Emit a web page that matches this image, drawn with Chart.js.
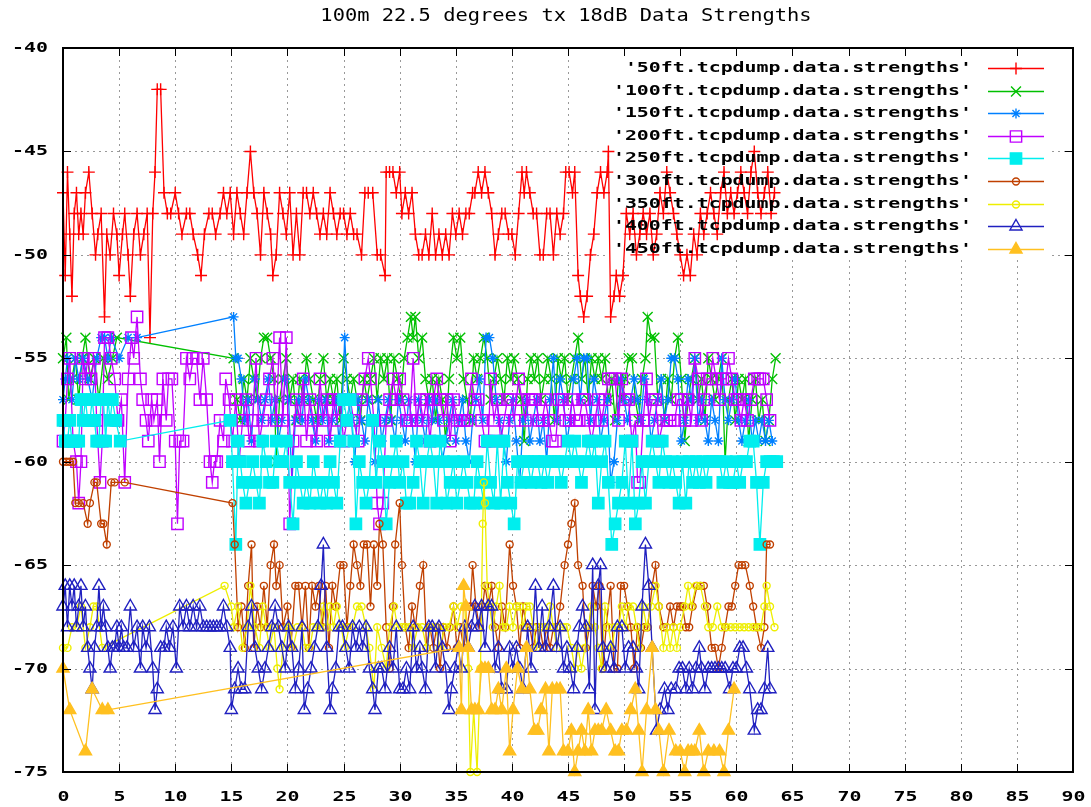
<!DOCTYPE html>
<html><head><meta charset="utf-8">
<script src="https://cdn.jsdelivr.net/npm/chart.js@4/dist/chart.umd.min.js"></script>
<style>html,body{margin:0;padding:0;background:#fff;overflow:hidden}</style>
</head><body>
<canvas id="c" width="1091" height="807"></canvas>
<script>
const titleText = '100m 22.5 degrees tx 18dB Data Strengths';
const seriesNames = ["'50ft.tcpdump.data.strengths'","'100ft.tcpdump.data.strengths'","'150ft.tcpdump.data.strengths'","'200ft.tcpdump.data.strengths'","'250ft.tcpdump.data.strengths'","'300ft.tcpdump.data.strengths'","'350ft.tcpdump.data.strengths'","'400ft.tcpdump.data.strengths'","'450ft.tcpdump.data.strengths'"];
const xTicks = [0,5,10,15,20,25,30,35,40,45,50,55,60,65,70,75,80,85,90];
const yTicks = [-75,-70,-65,-60,-55,-50,-45,-40];

const x50 = [0.0,0.2,0.4,0.6,0.8,1.0,1.2,1.4,1.6,1.8,
2.0,2.3,2.6,2.9,3.1,3.4,3.7,3.9,4.2,4.5,
4.8,5.0,5.3,5.5,5.8,6.0,6.3,6.6,6.9,7.2,
7.5,7.75,8.0,8.2,8.4,8.7,9.0,9.3,9.6,10.0,
10.3,10.6,11.0,11.3,11.6,12.0,12.3,12.6,13.0,13.3,
13.6,14.0,14.3,14.6,14.9,15.2,15.5,15.8,16.1,16.4,
16.7,17.0,17.3,17.6,17.9,18.2,18.5,18.7,19.0,19.3,
19.6,19.9,20.2,20.5,20.8,21.1,21.4,21.7,22.0,22.3,
22.6,22.9,23.2,23.5,23.8,24.1,24.4,24.7,25.0,25.3,
25.6,25.9,26.2,26.6,26.9,27.2,27.6,28.0,28.3,28.7,
28.8,29.1,29.4,29.7,30.0,30.2,30.5,30.8,31.1,31.4,
31.7,32.0,32.3,32.6,32.9,33.2,33.5,33.8,34.1,34.4,
34.7,35.0,35.3,35.6,35.9,36.2,36.5,36.7,37.0,37.3,
37.6,37.9,38.2,38.5,38.8,39.1,39.4,39.7,40.0,40.3,
40.6,40.9,41.1,41.3,41.6,41.9,42.2,42.5,42.8,43.1,
43.4,43.7,44.0,44.3,44.6,44.8,45.1,45.4,45.6,45.9,
46.1,46.4,46.7,47.0,47.3,47.6,47.9,48.2,48.5,48.6,
48.8,49.1,49.3,49.6,49.9,50.2,50.5,50.8,51.1,51.4,
51.7,52.0,52.3,52.6,52.9,53.2,53.5,53.8,54.1,54.4,
54.7,55.0,55.3,55.6,55.9,56.2,56.5,56.8,57.1,57.4,
57.7,58.0,58.3,58.6,58.9,59.2,59.5,59.8,60.1,60.4,
60.7,61.0,61.3,61.6,61.9,62.2,62.5,62.8,63.1,63.4];
const y50 = [-47,-51,-46,-49,-52,-48,-47,-49,-48,-49,
-47,-46,-48,-50,-49,-48,-53,-49,-50,-48,
-49,-51,-49,-48,-50,-52,-49,-48,-50,-49,
-48,-54,-48,-46,-42,-42,-47,-48,-48,-47,
-48,-49,-48,-48,-49,-50,-51,-49,-48,-48,
-49,-48,-47,-48,-47,-49,-47,-48,-49,-47,
-45,-47,-48,-50,-47,-48,-49,-51,-50,-47,
-48,-49,-47,-50,-48,-50,-47,-47,-48,-47,
-48,-49,-48,-49,-47,-48,-49,-48,-48,-49,
-48,-49,-49,-50,-47,-47,-47,-50,-50,-51,
-46,-46,-46,-47,-46,-48,-47,-48,-47,-49,
-50,-50,-49,-50,-48,-50,-49,-50,-49,-50,
-48,-49,-48,-49,-48,-48,-47,-47,-46,-47,
-46,-47,-48,-50,-49,-48,-48,-49,-49,-50,
-48,-46,-47,-46,-47,-48,-48,-50,-50,-48,
-48,-50,-48,-49,-48,-46,-46,-47,-46,-51,
-52,-53,-52,-50,-49,-47,-46,-47,-46,-45,
-53,-52,-51,-52,-51,-48,-49,-48,-50,-49,
-48,-49,-48,-50,-49,-47,-48,-46,-47,-48,
-49,-50,-51,-50,-51,-49,-50,-48,-49,-48,
-47,-48,-49,-47,-46,-48,-47,-48,-47,-46,
-47,-48,-46,-45,-47,-48,-47,-46,-48,-47];

const x100 = [0.0,0.3,0.5,0.8,1.1,1.4,1.7,2.0,2.4,2.8,3.2,3.6,4.0,4.4,4.8,
15.2,15.5,15.8,16.1,16.4,16.7,17.0,17.3,17.6,17.9,
18.2,18.5,18.8,19.0,19.3,19.6,19.9,20.2,20.5,20.8,
21.1,21.4,21.7,22.0,22.3,22.6,22.9,23.2,23.5,23.8,
24.1,24.4,24.7,25.0,25.3,25.6,25.9,26.2,26.5,26.8,
27.1,27.4,27.7,28.0,28.3,28.6,28.9,29.2,29.5,29.8,
30.1,30.4,30.7,31.0,31.2,31.4,31.7,32.0,32.3,32.6,
32.9,33.2,33.5,33.8,34.1,34.4,34.8,35.1,35.4,35.7,
36.0,36.3,36.6,36.9,37.2,37.5,37.8,38.1,38.4,38.7,
39.0,39.3,39.6,39.9,40.2,40.5,40.8,41.1,41.4,41.7,
42.0,42.3,42.6,42.9,43.2,43.5,43.8,44.1,44.4,44.7,
45.0,45.3,45.6,45.9,46.2,46.5,46.8,47.1,47.4,47.7,
48.0,48.3,48.6,48.9,49.2,49.5,49.8,50.1,50.4,50.7,
51.0,51.3,51.6,51.9,52.1,52.4,52.7,53.0,53.3,53.6,
53.9,54.2,54.5,54.8,55.1,55.4,55.7,56.0,56.3,56.6,
56.9,57.2,57.5,57.8,58.1,58.4,58.7,59.0,59.3,59.6,
59.9,60.2,60.5,60.8,61.1,61.4,61.7,62.0,62.3,62.6,
62.9,63.2,63.5];
const y100 = [-55,-54,-57,-56,-55,-57,-55,-54,-56,-55,-57,-55,-56,-55,-54,
-55,-57,-58,-56,-57,-55,-56,-57,-55,-54,
-54,-55,-56,-60,-57,-56,-55,-57,-56,-58,
-56,-57,-55,-56,-57,-58,-56,-55,-57,-56,
-57,-56,-58,-55,-56,-57,-56,-57,-58,-56,
-57,-56,-55,-57,-55,-56,-55,-58,-55,-56,
-57,-55,-54,-53,-54,-53,-55,-54,-56,-57,
-56,-58,-56,-57,-59,-56,-54,-55,-54,-56,
-57,-58,-55,-56,-55,-54,-55,-57,-56,-55,
-56,-57,-55,-56,-55,-56,-57,-59,-56,-55,
-56,-55,-57,-56,-55,-56,-58,-55,-56,-55,
-57,-56,-55,-54,-56,-55,-57,-55,-56,-55,
-56,-55,-57,-56,-58,-56,-57,-56,-55,-55,
-57,-58,-56,-55,-53,-54,-54,-57,-56,-58,
-56,-57,-55,-54,-56,-59,-57,-56,-55,-57,
-56,-58,-55,-56,-57,-56,-55,-60,-57,-56,
-58,-56,-57,-56,-59,-57,-56,-58,-57,-59,
-58,-56,-55];

const x150 = [0.0,0.2,0.4,0.6,0.8,1.1,1.4,1.8,2.2,2.6,3.0,3.4,3.7,4.0,4.3,5.0,5.8,6.6,
15.2,15.4,15.6,15.9,16.2,16.5,16.8,17.1,17.4,17.7,
18.0,18.3,18.6,18.9,19.2,19.5,19.8,20.1,20.4,20.7,
21.0,21.3,21.6,21.9,22.2,22.5,22.8,23.1,23.4,23.7,
24.0,24.3,24.6,24.9,25.1,25.4,25.7,26.0,26.3,26.6,
26.9,27.2,27.5,27.8,28.1,28.4,28.7,29.0,29.3,29.6,
29.9,30.2,30.5,30.8,31.1,31.4,31.7,32.0,32.3,32.6,
32.9,33.2,33.5,33.8,34.1,34.4,34.7,35.0,35.3,35.6,
35.9,36.2,36.5,36.8,37.1,37.4,37.7,38.0,38.3,38.6,
38.9,39.2,39.5,39.8,40.1,40.4,40.7,41.0,41.3,41.6,
41.9,42.2,42.5,42.8,43.1,43.4,43.7,44.0,44.3,44.6,
44.9,45.2,45.5,45.8,46.1,46.4,46.7,47.0,47.3,47.6,
47.9,48.2,48.5,48.8,49.1,49.4,49.7,50.0,50.3,50.6,
50.9,51.2,51.5,51.8,52.1,52.4,52.7,53.0,53.3,53.6,
53.9,54.2,54.5,54.8,55.1,55.4,55.7,56.0,56.3,56.6,
56.9,57.2,57.5,57.8,58.1,58.4,58.7,59.0,59.3,59.6,
59.9,60.2,60.5,60.8,61.1,61.4,61.7,62.0,62.3,62.6,
62.9,63.2];
const y150 = [-57,-56,-55,-56,-57,-55,-56,-55,-56,-57,-55,-54,-54,-55,-54,-55,-54,-54,
-53,-55,-55,-56,-58,-57,-59,-56,-57,-58,
-57,-56,-58,-57,-59,-58,-56,-57,-61,-58,
-57,-58,-56,-57,-58,-59,-57,-58,-57,-59,
-58,-57,-59,-57,-54,-57,-58,-60,-57,-58,
-59,-57,-58,-60,-57,-59,-58,-57,-58,-59,
-57,-58,-59,-57,-58,-60,-57,-58,-59,-57,
-58,-57,-58,-60,-59,-58,-57,-59,-58,-57,
-59,-60,-58,-57,-56,-58,-54,-54,-55,-57,
-58,-59,-60,-58,-57,-59,-61,-58,-57,-59,
-58,-57,-59,-58,-60,-57,-55,-58,-56,-57,
-59,-58,-56,-55,-57,-55,-55,-58,-56,-57,
-59,-58,-57,-61,-60,-58,-56,-57,-58,-57,
-56,-57,-58,-56,-57,-59,-58,-57,-56,-58,
-57,-55,-55,-56,-59,-58,-56,-57,-55,-58,
-57,-58,-59,-57,-58,-59,-55,-57,-58,-57,
-56,-58,-59,-58,-57,-59,-58,-59,-58,-59,
-58,-59];

const x200 = [0.0,0.2,0.4,0.6,0.9,1.2,1.4,1.6,1.8,2.0,
2.2,2.5,2.8,3.0,3.3,3.5,3.7,4.0,4.3,4.6,
4.9,5.2,5.5,5.8,6.1,6.3,6.6,6.9,7.1,7.4,
7.6,7.9,8.1,8.4,8.6,8.9,9.2,9.4,9.7,10.0,
10.2,10.4,10.7,11.0,11.3,11.6,11.9,12.2,12.5,12.8,
13.1,13.3,13.5,13.7,14.0,14.3,14.5,14.8,
15.1,15.4,15.7,16.0,16.3,16.6,16.9,17.2,17.5,17.8,
18.1,18.4,18.7,19.0,19.3,19.6,19.9,20.2,20.5,20.8,
21.1,21.4,21.7,22.0,22.3,22.6,22.9,23.2,23.5,23.8,
24.1,24.4,24.7,25.0,25.3,25.6,25.9,26.3,26.6,26.9,
27.2,27.4,27.7,28.0,28.2,28.5,28.8,29.1,29.4,29.7,
30.0,30.3,30.6,30.9,31.2,31.5,31.8,32.1,32.4,32.7,
33.0,33.3,33.6,33.9,34.2,34.5,34.8,35.1,35.4,35.7,
36.0,36.4,36.7,37.0,37.3,37.6,37.9,38.1,38.4,38.7,
39.0,39.3,39.6,39.9,40.2,40.6,40.9,41.2,41.5,41.8,
42.1,42.4,42.7,43.0,43.3,43.6,43.9,44.2,44.5,44.8,
45.1,45.4,45.7,46.0,46.3,46.5,46.8,47.1,47.4,47.7,
48.0,48.3,48.6,48.9,49.2,49.5,49.8,50.1,50.4,50.7,
51.0,51.2,51.4,51.7,52.0,52.2,52.5,52.8,53.1,53.5,
53.8,54.1,54.5,54.8,55.1,55.4,55.7,56.0,56.3,56.6,
56.9,57.1,57.4,57.7,57.9,58.2,58.5,58.8,59.1,59.3,
59.6,59.9,60.1,60.4,60.7,61.0,61.3,61.6,61.9,62.1,
62.4,62.7,63.0];
const y200 = [-59,-58,-56,-55,-59,-60,-62,-60,-55,-56,
-55,-56,-55,-58,-61,-59,-54,-54,-55,-56,
-58,-57,-61,-56,-54,-55,-53,-56,-57,-58,
-59,-57,-58,-57,-60,-56,-58,-56,-56,-59,
-63,-59,-59,-55,-56,-55,-55,-57,-55,-57,
-60,-61,-60,-60,-58,-59,-56,-57,
-59,-57,-60,-58,-57,-59,-58,-55,-59,-58,
-57,-56,-55,-58,-54,-58,-54,-63,-59,-57,
-58,-56,-59,-57,-58,-59,-56,-58,-57,-59,
-57,-58,-57,-59,-58,-57,-58,-59,-57,-56,
-55,-56,-58,-62,-63,-62,-58,-57,-56,-57,
-56,-57,-58,-58,-55,-58,-57,-58,-57,-59,
-57,-56,-57,-58,-57,-59,-57,-58,-58,-58,
-58,-56,-57,-57,-58,-59,-59,-56,-58,-57,
-59,-58,-57,-57,-58,-56,-57,-58,-57,-57,
-57,-58,-58,-57,-58,-59,-59,-57,-57,-58,
-58,-57,-58,-58,-57,-57,-58,-59,-58,-57,
-58,-57,-56,-56,-56,-58,-56,-57,-57,-59,
-58,-61,-61,-58,-56,-58,-57,-57,-59,-58,
-58,-58,-58,-57,-57,-58,-57,-58,-55,-56,
-58,-57,-56,-56,-55,-56,-57,-56,-56,-55,
-56,-57,-57,-58,-57,-58,-57,-56,-56,-56,
-56,-57,-58];

const x250 = [0.0,0.2,0.4,0.6,0.8,1.0,1.2,1.4,1.6,1.8,
2.0,2.2,2.4,2.6,2.8,3.0,3.2,3.4,3.6,3.8,
4.0,4.2,4.4,4.7,5.1,
14.9,15.1,15.4,15.6,15.8,16.0,16.3,16.6,16.9,17.2,
17.5,17.8,18.1,18.4,18.7,19.0,19.3,19.6,19.9,20.2,
20.5,20.8,21.1,21.4,21.7,22.0,22.3,22.6,22.9,23.2,
23.5,23.8,24.1,24.4,24.7,25.0,25.3,25.6,25.9,26.1,
26.4,26.7,27.0,27.3,27.6,27.9,28.2,28.5,28.8,29.1,
29.4,29.7,30.0,30.3,30.6,30.9,31.2,31.5,31.8,32.1,
32.4,32.7,33.0,33.3,33.6,33.9,34.2,34.5,34.8,35.1,
35.4,35.7,36.0,36.3,36.6,36.9,37.2,37.5,37.8,38.1,
38.4,38.7,39.0,39.3,39.6,39.9,40.2,40.5,40.8,41.1,
41.4,41.7,42.0,42.3,42.6,42.9,43.2,43.5,43.8,44.1,
44.4,44.7,45.0,45.3,45.6,45.9,46.2,46.5,46.8,47.1,
47.4,47.7,48.0,48.3,48.6,48.9,49.2,49.5,49.8,50.1,
50.4,50.7,51.0,51.3,51.6,51.9,52.2,52.5,52.8,53.1,
53.4,53.7,54.0,54.3,54.6,54.9,55.2,55.5,55.8,56.1,
56.4,56.7,57.0,57.3,57.6,57.9,58.2,58.5,58.8,59.1,
59.4,59.7,60.0,60.3,60.6,60.9,61.2,61.5,61.8,62.1,
62.4,62.7,63.0,63.3,63.6];
const y250 = [-58,-59,-59,-58,-59,-59,-59,-59,-57,-58,
-57,-58,-58,-57,-58,-59,-59,-57,-57,-59,
-57,-58,-57,-58,-59,
-58,-60,-64,-59,-60,-61,-62,-61,-60,-61,
-62,-59,-60,-61,-61,-59,-60,-60,-59,-61,
-63,-60,-61,-62,-61,-62,-60,-61,-62,-61,
-62,-60,-61,-62,-59,-57,-58,-57,-59,-63,
-60,-61,-62,-61,-58,-61,-59,-60,-63,-61,
-60,-59,-61,-60,-62,-62,-61,-59,-60,-62,
-60,-59,-60,-62,-59,-60,-62,-61,-60,-62,
-61,-60,-61,-62,-62,-60,-61,-62,-59,-61,
-62,-59,-62,-59,-61,-62,-63,-60,-61,-60,
-60,-61,-60,-60,-61,-60,-61,-60,-60,-60,
-61,-60,-59,-60,-59,-60,-61,-60,-59,-60,
-59,-62,-60,-59,-61,-64,-63,-62,-61,-59,
-62,-59,-63,-62,-60,-62,-60,-59,-60,-61,
-59,-60,-61,-60,-61,-62,-60,-62,-60,-61,
-60,-61,-60,-61,-60,-60,-60,-60,-61,-60,
-61,-61,-60,-61,-60,-60,-59,-59,-61,-64,
-61,-60,-60,-60,-60];

const x300 = [0.0,0.3,0.6,0.9,1.1,1.4,1.8,2.2,2.4,2.8,
3.0,3.4,3.6,3.9,4.3,4.6,5.5,
15.1,15.3,15.6,15.9,16.2,16.5,16.8,17.0,17.3,17.6,
17.9,18.2,18.5,18.8,19.0,19.3,19.6,20.0,20.3,20.7,
21.0,21.3,21.6,21.9,22.2,22.5,22.8,23.1,23.4,23.7,
24.0,24.3,24.7,25.0,25.3,25.6,25.9,26.2,26.5,26.8,
27.1,27.4,27.7,28.0,28.2,28.5,28.8,29.1,29.4,29.6,
30.0,30.2,30.5,30.8,31.1,31.4,31.8,32.1,32.4,32.7,
33.0,33.3,33.6,33.9,34.2,34.5,34.8,35.1,35.4,35.7,
36.0,36.3,36.5,36.8,37.1,37.4,37.6,37.9,38.2,38.5,
38.8,39.1,39.4,39.8,40.1,40.4,40.7,41.0,41.3,41.6,
41.9,42.2,42.5,42.8,43.1,43.4,43.7,44.0,44.3,44.7,
45.0,45.3,45.6,45.9,46.3,46.6,46.9,47.2,47.5,47.8,
48.1,48.4,48.8,49.1,49.4,49.7,50.0,50.3,50.6,50.9,
51.2,51.5,51.8,52.1,52.5,52.8,53.1,53.5,53.8,54.1,
54.4,54.7,55.0,55.2,55.5,55.8,56.1,56.5,56.8,57.1,
57.4,57.8,58.1,58.4,58.7,59.0,59.3,59.6,59.9,60.2,
60.5,60.8,61.2,61.5,61.8,62.2,62.5,62.7,63.0];
const y300 = [-60,-60,-60,-60,-62,-62,-62,-63,-62,-61,
-61,-63,-63,-64,-61,-61,-61,
-62,-64,-68,-67,-69,-66,-64,-69,-67,-68,
-66,-68,-65,-64,-66,-65,-68,-67,-69,-66,
-66,-68,-66,-69,-66,-67,-66,-68,-66,-69,
-66,-67,-65,-65,-68,-66,-64,-65,-66,-64,
-64,-67,-64,-66,-63,-64,-68,-70,-67,-64,
-62,-65,-68,-69,-67,-68,-66,-65,-69,-68,
-69,-68,-70,-68,-69,-68,-67,-69,-68,-69,
-68,-67,-65,-67,-68,-67,-66,-67,-66,-68,
-69,-67,-68,-64,-66,-67,-69,-67,-68,-68,
-69,-68,-68,-69,-68,-69,-68,-68,-67,-65,
-64,-63,-62,-65,-66,-69,-68,-66,-67,-66,
-70,-68,-66,-70,-70,-66,-66,-67,-68,-70,
-68,-69,-68,-68,-66,-65,-67,-68,-68,-67,
-68,-67,-67,-67,-68,-68,-67,-66,-66,-66,
-67,-69,-69,-70,-69,-68,-67,-67,-66,-65,
-65,-65,-66,-67,-68,-69,-68,-64,-64];

const x350 = [0.0,0.4,0.8,1.2,1.6,2.0,2.4,2.7,3.0,3.5,
14.4,
15.0,15.2,15.6,16.0,16.4,16.7,17.1,17.5,17.8,18.1,
18.4,18.8,19.1,19.3,19.6,20.0,20.2,20.5,20.9,21.3,
21.6,22.0,22.3,22.6,22.9,23.2,23.5,23.8,24.1,24.4,
24.8,25.1,25.5,25.8,26.2,26.6,27.0,27.3,27.7,28.0,
28.4,28.8,29.1,29.5,29.8,30.2,30.5,30.9,31.2,31.6,
32.0,32.4,32.8,33.2,33.6,34.0,34.4,34.8,35.1,35.5,
35.8,36.1,36.3,36.6,36.9,37.2,37.4,37.5,37.6,37.8,
38.0,38.3,38.6,38.9,39.2,39.5,39.8,40.1,40.4,40.7,
41.0,41.3,41.6,41.9,42.2,42.5,42.8,43.1,43.4,43.7,
44.0,44.3,44.6,44.9,45.3,45.6,45.9,46.2,46.5,46.8,
47.1,47.4,47.7,48.0,48.3,48.6,48.9,49.2,49.5,49.8,
50.1,50.4,50.8,51.1,51.4,51.7,52.0,52.4,52.8,53.1,
53.5,53.8,54.1,54.4,54.7,55.0,55.4,55.7,56.0,56.4,
56.8,57.2,57.5,57.9,58.3,58.7,59.1,59.5,59.9,60.3,
60.7,61.1,61.5,61.9,62.2,62.5,62.7,63.0,63.4];
const y350 = [-69,-69,-68,-68,-67,-69,-68,-67,-67,-69,
-66,
-67,-68,-67,-69,-68,-66,-68,-69,-67,-68,
-69,-68,-70,-71,-69,-68,-68,-69,-68,-68,
-69,-69,-68,-68,-68,-67,-68,-67,-68,-67,
-68,-69,-68,-68,-67,-67,-68,-69,-71,-68,
-69,-70,-68,-67,-68,-68,-68,-68,-69,-68,
-68,-69,-68,-68,-69,-68,-68,-67,-68,-67,
-67,-70,-75,-72,-75,-70,-63,-61,-62,-66,
-67,-68,-67,-66,-68,-68,-67,-68,-67,-67,
-68,-67,-67,-68,-69,-68,-68,-68,-67,-68,
-69,-68,-68,-68,-69,-70,-69,-70,-69,-68,
-67,-68,-69,-70,-67,-68,-69,-68,-68,-67,
-68,-67,-67,-68,-69,-67,-68,-67,-66,-67,
-69,-68,-69,-68,-69,-68,-67,-66,-67,-66,
-66,-67,-68,-68,-67,-68,-68,-68,-68,-68,
-68,-68,-68,-68,-68,-67,-66,-67,-68];

const x400 = [0.0,0.2,0.4,0.6,0.8,1.0,1.2,1.4,1.6,1.8,
2.0,2.2,2.4,2.6,2.8,3.0,3.2,3.4,3.6,3.8,
4.0,4.2,4.4,4.6,4.8,5.0,5.2,5.4,5.7,6.0,
6.3,6.6,6.9,7.1,7.4,7.7,8.0,8.2,8.4,8.7,
9.0,9.2,9.5,9.8,10.1,10.4,10.7,11.0,11.3,11.6,
11.9,12.2,12.5,12.8,13.1,13.4,13.7,14.0,14.3,14.6,
14.9,15.0,15.3,15.6,15.9,16.2,16.5,16.8,17.1,17.4,
17.7,18.0,18.3,18.6,18.9,19.2,19.5,19.8,20.1,20.4,
20.7,21.0,21.3,21.5,21.8,22.1,22.4,22.7,23.0,23.2,
23.5,23.8,24.0,24.3,24.6,24.9,25.2,25.5,25.8,26.1,
26.4,26.7,27.0,27.3,27.6,27.8,28.1,28.4,28.7,29.1,
29.4,29.7,30.0,30.3,30.6,30.9,31.2,31.5,31.8,32.0,
32.3,32.6,32.9,33.2,33.5,33.8,34.1,34.4,34.6,34.9,
35.2,35.5,35.8,36.1,36.4,36.7,37.0,37.3,37.6,37.9,
38.2,38.5,38.8,39.1,39.5,39.8,40.1,40.4,40.7,41.0,
41.4,41.7,42.1,42.4,42.7,43.0,43.3,43.7,44.0,44.3,
44.6,44.9,45.2,45.5,45.8,46.0,46.3,46.6,46.9,47.2,
47.4,47.7,47.9,48.1,48.4,48.8,49.1,49.4,49.8,50.1,
50.4,50.8,51.1,51.3,51.6,51.9,52.2,52.5,52.9,53.2,
53.6,53.9,54.2,54.6,54.9,55.2,55.5,55.8,56.1,56.4,
56.7,56.9,57.2,57.5,57.8,58.1,58.4,58.7,59.0,59.4,
59.7,60.0,60.3,60.6,60.9,61.2,61.6,61.9,62.2,62.5,
62.8,63.0];
const y400 = [-67,-66,-68,-66,-67,-66,-68,-67,-66,-68,
-67,-69,-70,-71,-69,-68,-66,-68,-67,-68,
-69,-70,-69,-69,-68,-69,-68,-69,-69,-67,
-69,-68,-70,-68,-69,-68,-70,-72,-71,-69,
-69,-68,-69,-68,-70,-67,-68,-67,-68,-67,
-68,-67,-68,-68,-68,-68,-68,-68,-67,-68,
-69,-72,-71,-70,-71,-71,-68,-67,-69,-70,
-71,-70,-69,-68,-67,-68,-69,-70,-68,-69,
-71,-70,-68,-72,-71,-70,-69,-68,-66,-64,
-69,-72,-71,-70,-68,-68,-69,-70,-68,-69,
-68,-69,-68,-70,-71,-72,-70,-70,-71,-69,
-70,-68,-71,-71,-70,-71,-68,-70,-69,-70,
-71,-68,-68,-70,-68,-69,-70,-72,-71,-70,
-69,-70,-68,-69,-68,-67,-68,-67,-69,-67,
-67,-70,-69,-71,-71,-69,-70,-69,-70,-71,
-68,-70,-66,-69,-67,-69,-68,-66,-69,-68,
-70,-69,-70,-71,-69,-68,-67,-68,-71,-65,
-72,-66,-65,-69,-70,-69,-70,-68,-68,-70,
-69,-69,-70,-71,-67,-64,-66,-69,-73,-72,
-71,-72,-71,-71,-70,-70,-71,-70,-71,-70,
-69,-70,-71,-70,-70,-70,-70,-70,-70,-71,
-70,-70,-69,-69,-70,-71,-73,-72,-72,-71,
-69,-71];

const x450 = [0.0,0.6,2.0,2.6,3.5,4.0,
35.3,35.5,35.7,35.9,36.1,36.4,36.7,37.0,37.3,37.6,
37.9,38.2,38.5,38.8,39.1,39.5,39.8,40.1,40.5,40.9,
41.3,41.6,42.0,42.3,42.6,43.0,43.3,43.6,44.0,44.3,
44.6,45.0,45.3,45.6,45.9,46.2,46.5,46.8,47.1,47.4,
47.7,48.0,48.4,48.8,49.2,49.5,49.8,50.2,50.6,51.0,
51.3,51.6,52.0,52.5,52.8,53.1,53.5,54.0,54.6,55.0,
55.4,55.7,56.0,56.3,56.7,57.1,57.5,58.0,58.5,58.9,
59.3,59.8];
const y450 = [-70,-72,-74,-71,-72,-72,
-69,-72,-66,-67,-69,-72,-72,-72,-70,-70,
-70,-72,-72,-71,-72,-70,-74,-72,-70,-71,
-69,-71,-73,-73,-72,-71,-74,-71,-71,-71,
-74,-74,-73,-75,-74,-73,-74,-72,-74,-73,
-73,-73,-72,-73,-74,-74,-73,-73,-72,-71,
-73,-75,-72,-69,-72,-73,-75,-73,-74,-74,
-75,-74,-74,-74,-73,-75,-74,-74,-74,-75,
-73,-71];

const seriesX = [x50,x100,x150,x200,x250,x300,x350,x400,x450];
const seriesY = [y50,y100,y150,y200,y250,y300,y350,y400,y450];
const colors = ['#ff0000','#00c000','#0080ff','#c000ff','#00eeee','#c04000','#eeee00','#2020c0','#ffc020'];
const pStyles = ['cross','crossRot','star','rect','rect','circle','circle','triangle','triangle'];
const pRadius = [6,7,5,8,8,3.5,3.5,7,7];
const pFilled = [false,false,false,false,true,false,false,false,true];

const datasets = seriesX.map((xs,i)=>{
  const ys = seriesY[i];
  const n = Math.min(xs.length, ys.length);
  const pts = [];
  for (let k=0;k<n;k++) pts.push({x:xs[k], y:ys[k]});
  return {
    label: seriesNames[i], data: pts,
    borderColor: colors[i], borderWidth: 1.3,
    pointStyle: pStyles[i], pointRadius: pRadius[i], pointHoverRadius: pRadius[i],
    pointBorderColor: colors[i], pointBorderWidth: 1.4,
    pointBackgroundColor: pFilled[i] ? colors[i] : 'rgba(0,0,0,0)',
    backgroundColor: pFilled[i] ? colors[i] : 'rgba(0,0,0,0)',
    fill: false, tension: 0, clip: false, order: 20 - i
  };
});

const FONT = 'bold 14px "DejaVu Sans Mono"';
function stretchText(ctx, text, x, y, sx, align, font){
  ctx.save();
  ctx.translate(x, y); ctx.scale(sx, 1);
  ctx.font = font; ctx.textAlign = align; ctx.textBaseline = 'middle'; ctx.fillStyle = '#000';
  ctx.fillText(text, 0, 0);
  ctx.restore();
}
const legendBox = {l:606, t:54, r:1052, b:260};

const framePlugin = {
  id: 'frame',
  beforeDatasetsDraw(chart){
    const {ctx, chartArea:a, scales:{x, y}} = chart;
    ctx.save();
    ctx.strokeStyle = '#999999'; ctx.lineWidth = 1; ctx.setLineDash([2,4]);
    xTicks.forEach(v=>{
      if (v<=0 || v>=90) return;
      const px = Math.round(x.getPixelForValue(v)) + 0.5;
      ctx.beginPath();
      if (px > legendBox.l && px < legendBox.r) { ctx.moveTo(px, legendBox.b); } else { ctx.moveTo(px, a.top); }
      ctx.lineTo(px, a.bottom); ctx.stroke();
    });
    yTicks.forEach(v=>{
      if (v<=-75 || v>=-40) return;
      const py = Math.round(y.getPixelForValue(v)) + 0.5;
      ctx.beginPath();
      if (py > legendBox.t && py < legendBox.b) {
        ctx.moveTo(a.left, py); ctx.lineTo(legendBox.l, py); ctx.stroke();
        ctx.beginPath(); ctx.moveTo(legendBox.r, py); ctx.lineTo(a.right, py);
      } else { ctx.moveTo(a.left, py); ctx.lineTo(a.right, py); }
      ctx.stroke();
    });
    ctx.restore();
  },
  afterDatasetsDraw(chart){
    const {ctx, chartArea:a, scales:{x, y}} = chart;
    ctx.save();
    ctx.setLineDash([]);
    ctx.strokeStyle = '#000'; ctx.lineWidth = 1;
    xTicks.forEach(v=>{
      const px = Math.round(x.getPixelForValue(v)) + 0.5;
      ctx.beginPath(); ctx.moveTo(px, a.bottom); ctx.lineTo(px, a.bottom-8);
      ctx.moveTo(px, a.top); ctx.lineTo(px, a.top+8); ctx.stroke();
      stretchText(ctx, String(v), px, 797, 1.42, 'center', FONT);
    });
    yTicks.forEach(v=>{
      const py = Math.round(y.getPixelForValue(v)) + 0.5;
      ctx.beginPath(); ctx.moveTo(a.left, py); ctx.lineTo(a.left+8, py);
      ctx.moveTo(a.right, py); ctx.lineTo(a.right-8, py); ctx.stroke();
      stretchText(ctx, String(v), 48, py, 1.42, 'right', FONT);
    });
    ctx.lineWidth = 2;
    ctx.strokeRect(a.left, a.top, a.right-a.left, a.bottom-a.top);
    stretchText(ctx, titleText, 566, 17, 1.2, 'center', '17px "DejaVu Sans Mono"');
    seriesNames.forEach((name,i)=>{
      const yy = Math.round(68 + i*22.6) + 0.5;
      stretchText(ctx, name, 972, yy, 1.42, 'right', FONT);
      ctx.strokeStyle = colors[i]; ctx.lineWidth = 1.3;
      ctx.beginPath(); ctx.moveTo(988, yy); ctx.lineTo(1044, yy); ctx.stroke();
      ctx.lineWidth = 1.4;
      ctx.fillStyle = pFilled[i] ? colors[i] : 'rgba(0,0,0,0)';
      Chart.helpers.drawPoint(ctx, {pointStyle: pStyles[i], radius: pRadius[i], borderWidth: 1.4, rotation: 0}, 1016, yy);
    });
    ctx.restore();
  }
};

new Chart(document.getElementById('c'), {
  type: 'line',
  data: { datasets },
  options: {
    responsive: false, animation: false, devicePixelRatio: 1,
    layout: { padding: { left: 63, top: 48, right: 18, bottom: 35 } },
    plugins: { legend: { display: false }, tooltip: { enabled: false }, title: { display: false } },
    scales: {
      x: { type: 'linear', min: 0, max: 90, display: false },
      y: { type: 'linear', min: -75, max: -40, display: false }
    }
  },
  plugins: [framePlugin]
});
</script>
</body></html>
